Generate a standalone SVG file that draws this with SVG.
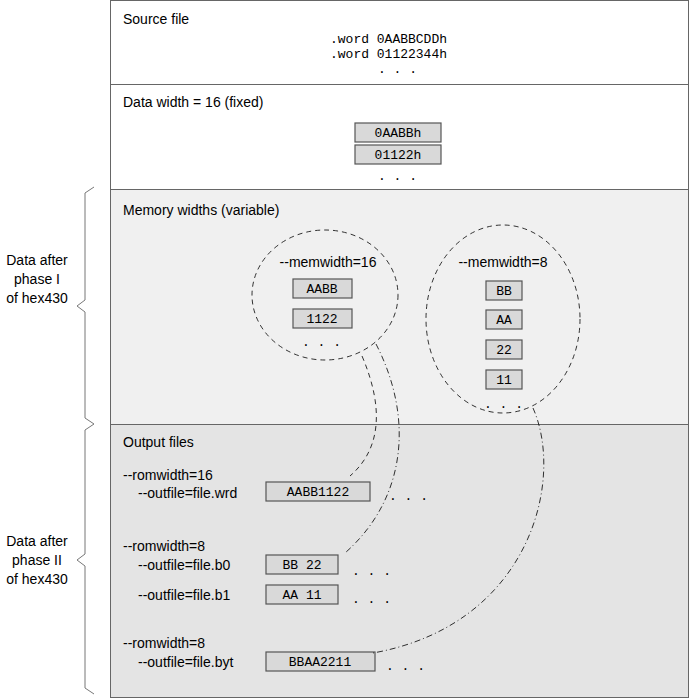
<svg xmlns="http://www.w3.org/2000/svg" width="689" height="698" viewBox="0 0 689 698">
<style>
.s{font-family:"Liberation Sans",Arial,sans-serif;font-size:14px;fill:#000}
.m{font-family:"Liberation Mono","Courier New",monospace;font-size:13px;fill:#000}
.b{fill:#d9d9d9;stroke:#555;stroke-width:1.2}
.c{fill:none;stroke:#000;stroke-width:0.8;stroke-dasharray:5,4}
.cd{fill:none;stroke:#000;stroke-width:0.8;stroke-dasharray:6,3,1,3}
.br{fill:none;stroke:#777;stroke-width:1}
</style>
<g id="panels" stroke="#666" stroke-width="1">
<rect x="110.5" y="0.5" width="578" height="84" fill="#fff"/>
<rect x="110.5" y="84.5" width="578" height="105" fill="#fff"/>
<rect x="110.5" y="189.5" width="578" height="235" fill="#f0f0f0"/>
<rect x="110.5" y="424.5" width="578" height="273" fill="#e4e4e4"/>
</g>
<g id="source">
<text class="s" x="123" y="24">Source file</text>
<text class="m" x="330" y="43">.word 0AABBCDDh</text>
<text class="m" x="330" y="58">.word 01122344h</text>
<text class="m" x="378" y="73">. . .</text>
</g>
<g id="datawidth">
<text class="s" x="123" y="107">Data width = 16 (fixed)</text>
<rect class="b" x="355" y="123" width="86" height="19"/><text class="m" x="398" y="137" text-anchor="middle">0AABBh</text>
<rect class="b" x="355" y="145" width="86" height="19"/><text class="m" x="398" y="159" text-anchor="middle">01122h</text>
<text class="m" x="378" y="180">. . .</text>
</g>
<g id="memwidths">
<text class="s" x="123" y="215">Memory widths (variable)</text>
<ellipse class="c" cx="325" cy="295" rx="73" ry="65"/>
<text class="s" x="328" y="267" text-anchor="middle">--memwidth=16</text>
<rect class="b" x="293" y="279" width="59" height="19"/><text class="m" x="322" y="293" text-anchor="middle">AABB</text>
<rect class="b" x="293" y="309" width="59" height="19"/><text class="m" x="322" y="323" text-anchor="middle">1122</text>
<text class="m" x="302" y="346">. . .</text>
<ellipse class="c" cx="503" cy="319" rx="77" ry="94"/>
<text class="s" x="503" y="267" text-anchor="middle">--memwidth=8</text>
<rect class="b" x="486" y="281" width="36" height="19"/><text class="m" x="504" y="295" text-anchor="middle">BB</text>
<rect class="b" x="486" y="310" width="36" height="19"/><text class="m" x="504" y="324" text-anchor="middle">AA</text>
<rect class="b" x="486" y="340" width="36" height="19"/><text class="m" x="504" y="354" text-anchor="middle">22</text>
<rect class="b" x="486" y="370" width="36" height="19"/><text class="m" x="504" y="384" text-anchor="middle">11</text>
<text class="m" x="484" y="408">. . .</text>
</g>
<g id="output">
<text class="s" x="123" y="447">Output files</text>
<text class="s" x="123" y="480">--romwidth=16</text>
<text class="s" x="138" y="498">--outfile=file.wrd</text>
<rect class="b" x="266" y="482" width="104" height="19"/><text class="m" x="318" y="496" text-anchor="middle">AABB1122</text>
<text class="m" x="389" y="500">. . .</text>
<text class="s" x="123" y="551">--romwidth=8</text>
<text class="s" x="138" y="570">--outfile=file.b0</text>
<rect class="b" x="266" y="555" width="72" height="19"/><text class="m" x="302" y="569" text-anchor="middle">BB 22</text>
<text class="m" x="352" y="575">. . .</text>
<text class="s" x="138" y="600">--outfile=file.b1</text>
<rect class="b" x="266" y="585" width="72" height="19"/><text class="m" x="302" y="599" text-anchor="middle">AA 11</text>
<text class="m" x="352" y="603">. . .</text>
<text class="s" x="123" y="648">--romwidth=8</text>
<text class="s" x="138" y="667">--outfile=file.byt</text>
<rect class="b" x="266" y="652" width="109" height="19"/><text class="m" x="320" y="666" text-anchor="middle">BBAA2211</text>
<text class="m" x="386" y="670">. . .</text>
</g>
<g id="connectors">
<path class="c" d="M362,356 C385,410 380,450 350,476"/>
<path class="cd" d="M376,344 C415,420 405,500 345,553"/>
<path class="cd" d="M533,408 C565,480 530,625 373,653"/>
</g>
<g id="braces">
<path class="br" d="M94,187 L85,193 L85,300 L77,306 L85,312 L85,418 L94,424"/>
<text class="s" x="37" y="265" text-anchor="middle">Data after</text>
<text class="s" x="37" y="284" text-anchor="middle">phase I</text>
<text class="s" x="37" y="303" text-anchor="middle">of hex430</text>
<path class="br" d="M94,424 L85,430 L85,554 L77,560 L85,566 L85,688 L94,694"/>
<text class="s" x="37" y="546" text-anchor="middle">Data after</text>
<text class="s" x="37" y="565" text-anchor="middle">phase II</text>
<text class="s" x="37" y="584" text-anchor="middle">of hex430</text>
</g>
</svg>
